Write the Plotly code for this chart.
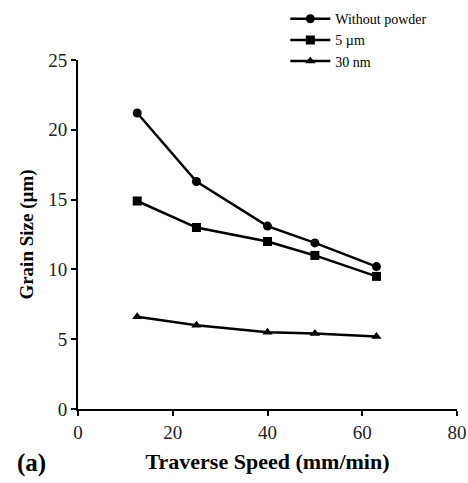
import plotly.graph_objects as go

speed = [12.5, 25, 40, 50, 63]
without_powder = [21.2, 16.3, 13.1, 11.9, 10.2]
five_um = [14.9, 13.0, 12.0, 11.0, 9.5]
thirty_nm = [6.6, 6.0, 5.5, 5.4, 5.2]

series = [
    ("Without powder", without_powder, "circle"),
    ("5 µm", five_um, "square"),
    ("30 nm", thirty_nm, "triangle-up"),
]

fig = go.Figure()
for name, vals, sym in series:
    fig.add_trace(go.Scatter(
        x=speed, y=vals, name=name, mode="lines+markers",
        line=dict(color="black", width=2.5),
        marker=dict(symbol=sym, size=9, color="black"),
    ))

font_family = "Liberation Serif"
fig.update_layout(
    width=468, height=483,
    margin=dict(l=78, r=11, t=60, b=74, autoexpand=False),
    paper_bgcolor="white", plot_bgcolor="white",
    font=dict(family=font_family, color="black", size=17),
    showlegend=True,
    legend=dict(
        x=0.547, y=1.163, xanchor="left", yanchor="top",
        font=dict(size=14, family=font_family),
        itemwidth=40, tracegroupgap=0,
        bgcolor="rgba(0,0,0,0)",
    ),
    xaxis=dict(
        range=[0, 80], dtick=20, showline=True, linecolor="black", linewidth=2,
        ticks="outside", ticklen=5, tickwidth=1.5, tickcolor="black",
        showgrid=False, zeroline=False,
        tickfont=dict(size=19, color="#222"),
        title=dict(text="<b>Traverse Speed (mm/min)</b>", font=dict(size=22), standoff=12),
    ),
    yaxis=dict(
        range=[0, 25], dtick=5, showline=True, linecolor="black", linewidth=2,
        ticks="outside", ticklen=5, tickwidth=1.5, tickcolor="black",
        showgrid=False, zeroline=False,
        tickfont=dict(size=19, color="#222"),
        title=dict(text="<b>Grain Size (µm)</b>", font=dict(size=19), standoff=10),
    ),
)
fig.add_annotation(
    text="<b>(a)</b>", xref="paper", yref="paper", x=-0.165, y=-0.155,
    xanchor="left", yanchor="middle", showarrow=False,
    font=dict(size=25, family=font_family, color="black"),
)
fig.write_html("out.html")
